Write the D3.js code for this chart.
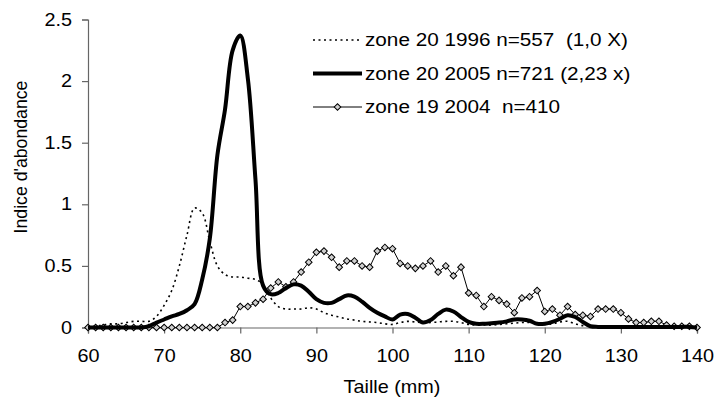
<!DOCTYPE html>
<html>
<head>
<meta charset="utf-8">
<script src="https://cdn.jsdelivr.net/npm/d3@7"></script>
<style>
    body { margin: 0; background: #fff; }
    #chart text { font-family: Arial, "Liberation Sans", sans-serif; fill: #000; }
</style>
</head>
<body>
<div id="chart"></div>
<script>
// taille en mm, un point par mm
const taille = d3.range(60, 141);

const zone20_1996 = [
    0.00, 0.01, 0.02, 0.03, 0.03, 0.04, 0.05, 0.05, 0.05, 0.09,
    0.18, 0.30, 0.50, 0.75, 0.97, 0.93, 0.70, 0.50, 0.43, 0.41,
    0.41, 0.40, 0.39, 0.35, 0.24, 0.17, 0.15, 0.15, 0.15, 0.16,
    0.15, 0.12, 0.10, 0.085, 0.07, 0.06, 0.05, 0.045, 0.04, 0.03,
    0.025, 0.04, 0.05, 0.045, 0.04, 0.04, 0.045, 0.05, 0.05, 0.04,
    0.025, 0.02, 0.02, 0.02, 0.025, 0.03, 0.035, 0.04, 0.04, 0.035,
    0.025, 0.03, 0.045, 0.05, 0.03, 0.015, 0.01, 0.005, 0.005, 0.005,
    0.005, 0.005, 0.005, 0.005, 0.005, 0.005, 0.005, 0.005, 0.005, 0.005,
    0.00
];

const zone20_2005 = [
    0.00, 0.00, 0.00, 0.00, 0.00, 0.00, 0.00, 0.00, 0.01, 0.04,
    0.065, 0.09, 0.11, 0.14, 0.19, 0.39, 0.72, 1.40, 1.77, 2.25,
    2.37, 2.02, 1.20, 0.34, 0.27, 0.28, 0.32, 0.35, 0.34, 0.29,
    0.23, 0.20, 0.20, 0.23, 0.26, 0.25, 0.21, 0.16, 0.12, 0.09,
    0.065, 0.105, 0.11, 0.08, 0.04, 0.06, 0.11, 0.145, 0.13, 0.085,
    0.045, 0.03, 0.03, 0.035, 0.04, 0.05, 0.065, 0.065, 0.055, 0.03,
    0.03, 0.045, 0.07, 0.10, 0.085, 0.045, 0.01, 0.005, 0.005, 0.005,
    0.005, 0.005, 0.005, 0.005, 0.005, 0.005, 0.005, 0.005, 0.005, 0.005,
    0.00
];

const zone19_2004 = [
    0.00, 0.00, 0.00, 0.00, 0.00, 0.00, 0.00, 0.00, 0.00, 0.00,
    0.00, 0.00, 0.00, 0.00, 0.00, 0.00, 0.00, 0.00, 0.04, 0.06,
    0.17, 0.17, 0.20, 0.23, 0.32, 0.37, 0.33, 0.37, 0.45, 0.53,
    0.61, 0.62, 0.57, 0.49, 0.54, 0.54, 0.50, 0.49, 0.62, 0.65,
    0.64, 0.52, 0.50, 0.48, 0.50, 0.54, 0.45, 0.50, 0.42, 0.49,
    0.28, 0.26, 0.17, 0.25, 0.22, 0.19, 0.12, 0.24, 0.25, 0.30,
    0.13, 0.15, 0.10, 0.17, 0.105, 0.10, 0.09, 0.15, 0.15, 0.15,
    0.12, 0.07, 0.04, 0.04, 0.05, 0.05, 0.02, 0.01, 0.01, 0.01,
    0.00
];

const xTicks = [60, 70, 80, 90, 100, 110, 120, 130, 140];
const yTicks = [0, 0.5, 1, 1.5, 2, 2.5];

const legendLabels = [
    "zone 20 1996 n=557  (1,0 X)",
    "zone 20 2005 n=721 (2,23 x)",
    "zone 19 2004  n=410"
];

const width = 714, height = 403;
const fontSize = "17.7px";
const stretch = 1.12; // le graphique d'origine est un peu étiré en largeur

const svg = d3.select("#chart")
    .append("svg")
    .attr("width", width)
    .attr("height", height)
    .attr("viewBox", `0 0 ${width} ${height}`);

const x = d3.scaleLinear().domain([60, 140]).range([88, 697]);
const y = d3.scaleLinear().domain([0, 2.5]).range([327.5, 19.5]);

// axes
const xAxis = svg.append("g")
    .attr("transform", `translate(0,${y(0)})`)
    .call(d3.axisBottom(x).tickValues(xTicks).tickSize(6).tickPadding(16).tickFormat(d3.format("d")));

const yAxis = svg.append("g")
    .attr("transform", `translate(${x(60)},0)`)
    .call(d3.axisLeft(y).tickValues(yTicks).tickSize(6).tickPadding(10).tickFormat(d => d3.format("")(d)));

[xAxis, yAxis].forEach(a => {
    a.select(".domain").attr("stroke", "#666").attr("stroke-width", 1.2);
    a.selectAll(".tick line").attr("stroke", "#666").attr("stroke-width", 1.2);
    a.selectAll(".tick text").style("font-size", fontSize).attr("fill", "#000");
});

xAxis.selectAll(".tick text")
    .attr("transform", `scale(${stretch},1)`);

yAxis.selectAll(".tick text")
    .attr("x", 0)
    .attr("transform", `translate(-16,0) scale(${stretch},1)`);

// axis titles
svg.append("text")
    .attr("transform", `translate(392,393) scale(${stretch},1)`)
    .attr("text-anchor", "middle")
    .style("font-size", fontSize)
    .text("Taille (mm)");

svg.append("text")
    .attr("transform", "translate(27,157) rotate(-90)")
    .attr("text-anchor", "middle")
    .style("font-size", fontSize)
    .text("Indice d'abondance");

// lines
const smooth = d3.line()
    .x((d, i) => x(taille[i]))
    .y(d => y(d))
    .curve(d3.curveCatmullRom.alpha(0.5));

const straight = d3.line()
    .x((d, i) => x(taille[i]))
    .y(d => y(d));

const plot = svg.append("g");

plot.append("path")
    .datum(zone20_1996)
    .attr("d", smooth)
    .attr("fill", "none")
    .attr("stroke", "#000")
    .attr("stroke-width", 1.6)
    .attr("stroke-dasharray", "2,3.5");

plot.append("path")
    .datum(zone19_2004)
    .attr("d", straight)
    .attr("fill", "none")
    .attr("stroke", "#000")
    .attr("stroke-width", 1);

const diamond = d3.symbol(d3.symbolSquare, 22);

plot.selectAll(".pt")
    .data(zone19_2004)
    .enter()
    .append("path")
    .attr("class", "pt")
    .attr("d", diamond)
    .attr("transform", (d, i) => `translate(${x(taille[i])},${y(d)}) rotate(45)`)
    .attr("fill", "#d0d0d0")
    .attr("stroke", "#000")
    .attr("stroke-width", 1);

plot.append("path")
    .datum(zone20_2005)
    .attr("d", smooth)
    .attr("fill", "none")
    .attr("stroke", "#000")
    .attr("stroke-width", 4)
    .attr("stroke-linejoin", "round");

// legend
const legend = svg.append("g").attr("transform", "translate(313,40)");
const rowH = 33.5;

legend.append("line")
    .attr("x1", 0).attr("x2", 49).attr("y1", 0).attr("y2", 0)
    .attr("stroke", "#000").attr("stroke-width", 1.6).attr("stroke-dasharray", "2,3.5");

legend.append("line")
    .attr("x1", 0).attr("x2", 49).attr("y1", rowH).attr("y2", rowH)
    .attr("stroke", "#000").attr("stroke-width", 4);

legend.append("line")
    .attr("x1", 0).attr("x2", 49).attr("y1", rowH * 2).attr("y2", rowH * 2)
    .attr("stroke", "#000").attr("stroke-width", 1);

legend.append("path")
    .attr("d", diamond)
    .attr("transform", `translate(24.5,${rowH * 2}) rotate(45)`)
    .attr("fill", "#d0d0d0")
    .attr("stroke", "#000");

legend.selectAll(".lab")
    .data(legendLabels)
    .enter()
    .append("text")
    .attr("class", "lab")
    .attr("transform", (d, i) => `translate(52,${i * rowH}) scale(${stretch},1)`)
    .attr("dy", "0.35em")
    .style("font-size", "18.5px")
    .style("white-space", "pre")
    .attr("xml:space", "preserve")
    .text(d => d);
</script>
</body>
</html>
